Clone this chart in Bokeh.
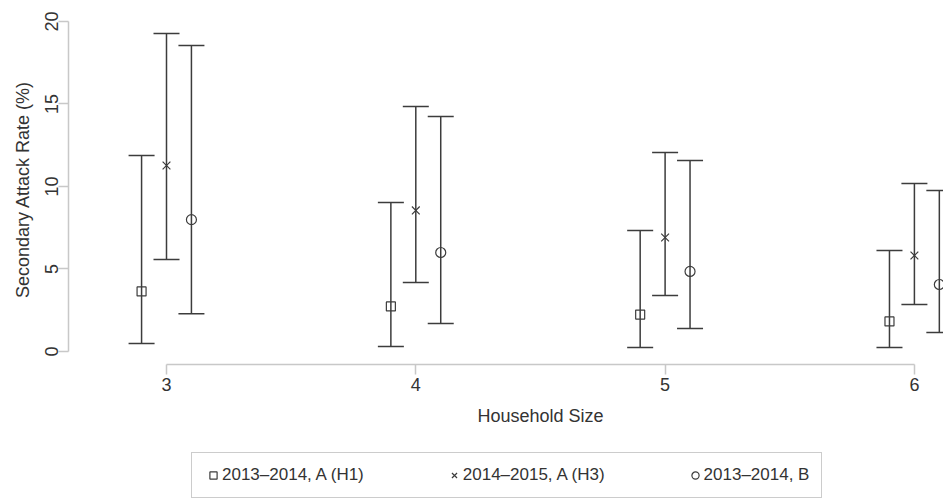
from bokeh.plotting import figure
from bokeh.models import (ColumnDataSource, Whisker, TeeHead, FixedTicker, Legend,
                          LegendItem, Range1d, Label)
from bokeh.layouts import column
from bokeh.embed import file_html
from bokeh.resources import INLINE
import numpy as np

# ---- data ----
household_size = [3, 4, 5, 6]
series_names = ["2013\u20132014, A (H1)", "2014\u20132015, A (H3)", "2013\u20132014, B"]

h1_rate = [3.64, 2.73, 2.24, 1.82]
h1_low = [0.48, 0.30, 0.24, 0.24]
h1_high = [11.88, 9.03, 7.33, 6.12]

h3_rate = [11.27, 8.55, 6.91, 5.82]
h3_low = [5.58, 4.18, 3.39, 2.85]
h3_high = [19.27, 14.85, 12.06, 10.18]

b_rate = [7.99, 6.00, 4.85, 4.06]
b_low = [2.29, 1.70, 1.39, 1.15]
b_high = [18.55, 14.24, 11.58, 9.76]

y_ticks = [0, 5, 10, 15, 20]
x_ticks = [3, 4, 5, 6]

FONT = "Liberation Sans"
INK = "#3c3c3c"
AXIS = "#c8c8c8"
TEXT = "#333333"

# ---------------- main chart ----------------
p = figure(width=943, height=400, output_backend="svg", toolbar_location=None,
           x_range=Range1d(2.6069, 6.1167), y_range=Range1d(-0.788, 20.424),
           min_border_left=68, min_border_right=0, min_border_top=14,
           min_border_bottom=36)
p.outline_line_color = None
p.xgrid.visible = False
p.ygrid.visible = False
p.background_fill_color = "white"
p.border_fill_color = "white"

series = [
    (h1_rate, h1_low, h1_high, "square", -0.1, 9),
    (h3_rate, h3_low, h3_high, "x", 0.0, 11),
    (b_rate, b_low, b_high, "circle", 0.1, 10),
]

for name, (rate, low, high, marker, off, msize) in zip(series_names, series):
    src = ColumnDataSource(dict(
        x=np.array(household_size, dtype=float) + off,
        rate=rate, low=low, high=high))
    w = Whisker(source=src, base="x", upper="high", lower="low", dimension="height",
                line_color=INK, line_width=1.5,
                upper_head=TeeHead(size=26, line_color=INK, line_width=1.5),
                lower_head=TeeHead(size=26, line_color=INK, line_width=1.5))
    p.add_layout(w)
    p.scatter("x", "rate", source=src, marker=marker, size=msize,
              line_color=INK, line_width=1.2, fill_color="white", fill_alpha=0)

for ax in (p.xaxis[0], p.yaxis[0]):
    ax.axis_line_color = AXIS
    ax.axis_line_width = 1.5
    ax.major_tick_line_color = AXIS
    ax.major_tick_line_width = 1.5
    ax.major_tick_out = 10
    ax.major_tick_in = 0
    ax.minor_tick_line_color = None
    ax.major_label_text_font = FONT
    ax.major_label_text_font_size = "18px"
    ax.major_label_text_color = TEXT
    ax.axis_label_text_font = FONT
    ax.axis_label_text_font_size = "18px"
    ax.axis_label_text_font_style = "normal"
    ax.axis_label_text_color = TEXT

p.xaxis.ticker = FixedTicker(ticks=x_ticks)
p.yaxis.ticker = FixedTicker(ticks=y_ticks)
p.xaxis.bounds = (x_ticks[0], x_ticks[-1])
p.yaxis.bounds = (y_ticks[0], y_ticks[-1])
p.yaxis.major_label_orientation = "vertical"
p.yaxis.major_label_standoff = 0
p.xaxis.major_label_standoff = 3
p.yaxis.axis_label = "Secondary Attack Rate (%)"
p.yaxis.axis_label_standoff = 10

# ---------------- x title + legend strip ----------------
q = figure(width=943, height=98, output_backend="svg", toolbar_location=None,
           x_axis_type=None, y_axis_type=None, x_range=Range1d(0, 1),
           y_range=Range1d(0, 1), min_border=0)
q.outline_line_color = None
q.background_fill_color = "white"
q.border_fill_color = "white"

# the column aligns this strip's frame with the chart frame (left edge at 68px)
q.add_layout(Label(x=472, y=83, x_units="screen", y_units="screen",
                   text="Household Size", text_align="center", text_baseline="middle",
                   text_font=FONT, text_font_size="18px", text_color=TEXT))

items = []
for name, (rate, low, high, marker, off, msize) in zip(series_names, series):
    # legend key renderers share the series data; their points fall outside this strip's range
    src = ColumnDataSource(dict(x=np.array(household_size, dtype=float) + off, rate=rate))
    r = q.scatter("x", "rate", source=src, marker=marker, size=msize,
                  line_color=INK, line_width=1.2, fill_color="white", fill_alpha=0)
    items.append(LegendItem(label=name, renderers=[r]))

legend = Legend(items=items, orientation="horizontal", location=(123, 0),
                label_text_font=FONT, label_text_font_size="17px",
                label_text_color=TEXT, glyph_width=18, glyph_height=18,
                label_standoff=0, spacing=81, padding=12, margin=0,
                border_line_color="#999999", border_line_width=1,
                background_fill_color="white", background_fill_alpha=1)
q.add_layout(legend)

layout = column(p, q, spacing=0)
open("out.html", "w").write(file_html(layout, INLINE))
